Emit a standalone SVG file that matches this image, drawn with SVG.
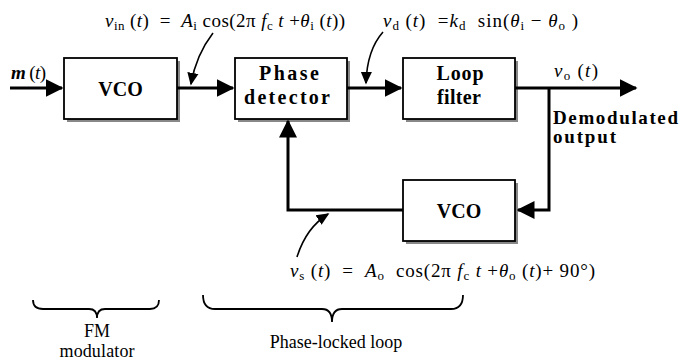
<svg xmlns="http://www.w3.org/2000/svg" width="683" height="362" viewBox="0 0 683 362">
<defs>
<marker id="ah" markerWidth="6" markerHeight="6" refX="5.5" refY="3" orient="auto" markerUnits="strokeWidth">
<path d="M0,0 L6,3 L0,6 Z" fill="#000"/>
</marker>
<marker id="sh" markerWidth="8" markerHeight="8" refX="7" refY="4" orient="auto" markerUnits="strokeWidth">
<path d="M0,0.5 L8,4 L0,7.5 Z" fill="#000"/>
</marker>
</defs>
<style>
.box{fill:#fff;stroke:#000;stroke-width:1.8}
.shadow{fill:#888}
.lbl{font-family:"Liberation Serif",serif;font-size:20px;font-weight:bold;text-anchor:middle}
.eq{font-family:"Liberation Serif",serif;font-size:19px;white-space:pre}
.it{font-style:italic}
.sub{font-size:13px}
.cap{font-family:"Liberation Serif",serif;font-size:18px;text-anchor:middle}
.wire{fill:none;stroke:#000;stroke-width:3}
.ptr{fill:none;stroke:#000;stroke-width:1.6}
.brace{fill:none;stroke:#000;stroke-width:1.8}
</style>
<g id="vco1">
<rect class="shadow" x="67" y="61" width="113" height="61"/>
<rect class="box" x="64" y="58" width="113" height="61"/>
<text class="lbl" x="120.5" y="96" font-size="21">VCO</text>
</g>
<g id="phase-detector">
<rect class="shadow" x="238" y="61" width="112" height="61"/>
<rect class="box" x="235" y="58" width="112" height="61"/>
<text class="lbl" x="289" y="80" textLength="60" lengthAdjust="spacing">Phase</text>
<text class="lbl" x="287" y="104" textLength="86" lengthAdjust="spacing">detector</text>
</g>
<g id="loop-filter">
<rect class="shadow" x="406" y="61" width="112" height="61"/>
<rect class="box" x="403" y="58" width="112" height="61"/>
<text class="lbl" x="460" y="80" textLength="47" lengthAdjust="spacing">Loop</text>
<text class="lbl" x="459" y="104" textLength="44" lengthAdjust="spacing">filter</text>
</g>
<g id="vco2">
<rect class="shadow" x="406" y="183" width="112" height="61"/>
<rect class="box" x="403" y="180" width="112" height="61"/>
<text class="lbl" x="459" y="218" font-size="21">VCO</text>
</g>
<g id="connectors">
<path class="wire" d="M10,88 H62" marker-end="url(#ah)"/>
<path class="wire" d="M177,88 H233" marker-end="url(#ah)"/>
<path class="wire" d="M347,88 H401" marker-end="url(#ah)"/>
<path class="wire" d="M515,88 H636" marker-end="url(#ah)"/>
<path class="wire" d="M549,88 V210 H518" marker-end="url(#ah)"/>
<path class="wire" d="M403,210 H288 V121" marker-end="url(#ah)"/>
<path class="ptr" d="M213,33 Q196,55 191,84" marker-end="url(#sh)"/>
<path class="ptr" d="M383,32 Q367,50 366,83" marker-end="url(#sh)"/>
<path class="ptr" d="M297,257 Q306,228 328,214" marker-end="url(#sh)"/>
</g>
<g id="labels">
<text class="eq" x="11" y="79" textLength="35" lengthAdjust="spacing"><tspan class="it" font-weight="bold">m</tspan> (<tspan class="it">t</tspan>)</text>
<text class="eq" x="105" y="27" textLength="240" lengthAdjust="spacing"><tspan class="it">v</tspan><tspan class="sub" dy="3">in</tspan><tspan dy="-3"> (</tspan><tspan class="it">t</tspan>)  =  <tspan class="it">A</tspan><tspan class="sub" dy="3">i</tspan><tspan dy="-3"> cos(2π </tspan><tspan class="it">f</tspan><tspan class="sub" dy="3">c</tspan><tspan dy="-3" class="it"> t</tspan> +<tspan class="it">θ</tspan><tspan class="sub" dy="3">i</tspan><tspan dy="-3"> (</tspan><tspan class="it">t</tspan>))</text>
<text class="eq" x="383" y="27" textLength="195" lengthAdjust="spacing"><tspan class="it">v</tspan><tspan class="sub" dy="3">d</tspan><tspan dy="-3"> (</tspan><tspan class="it">t</tspan>)  =<tspan class="it">k</tspan><tspan class="sub" dy="3">d</tspan><tspan dy="-3">  sin(</tspan><tspan class="it">θ</tspan><tspan class="sub" dy="3">i</tspan><tspan dy="-3"> − </tspan><tspan class="it">θ</tspan><tspan class="sub" dy="3">o</tspan><tspan dy="-3"> )</tspan></text>
<text class="eq" x="554" y="77" textLength="44" lengthAdjust="spacing"><tspan class="it">v</tspan><tspan class="sub" dy="3">o</tspan><tspan dy="-3"> (</tspan><tspan class="it">t</tspan>)</text>
<text class="eq" x="553" y="124" font-size="19" font-weight="bold" textLength="125" lengthAdjust="spacing">Demodulated</text>
<text class="eq" x="553" y="143" font-size="19" font-weight="bold" textLength="63" lengthAdjust="spacing">output</text>
<text class="eq" x="290" y="277" textLength="305" lengthAdjust="spacing"><tspan class="it">v</tspan><tspan class="sub" dy="3">s</tspan><tspan dy="-3"> (</tspan><tspan class="it">t</tspan>)  =  <tspan class="it">A</tspan><tspan class="sub" dy="3">o</tspan><tspan dy="-3">  cos(2π </tspan><tspan class="it">f</tspan><tspan class="sub" dy="3">c</tspan><tspan dy="-3" class="it"> t</tspan> +<tspan class="it">θ</tspan><tspan class="sub" dy="3">o</tspan><tspan dy="-3"> (</tspan><tspan class="it">t</tspan>)+ 90°)</text>
</g>
<g id="fm-brace">
<path class="brace" d="M33,300 Q33,309 43,309 H89 Q97,309 97,318 Q97,309 105,309 H150 Q159,309 159,300"/>
<text class="cap" x="97" y="337" font-size="16">FM</text>
<text class="cap" x="97" y="357" font-size="16" textLength="75" lengthAdjust="spacing">modulator</text>
</g>
<g id="pll-brace">
<path class="brace" d="M203,295 Q203,309 215,309 H322 Q332,309 332,322 Q332,309 342,309 H451 Q463,309 463,295"/>
<text class="cap" x="336" y="348">Phase-locked loop</text>
</g>
</svg>
